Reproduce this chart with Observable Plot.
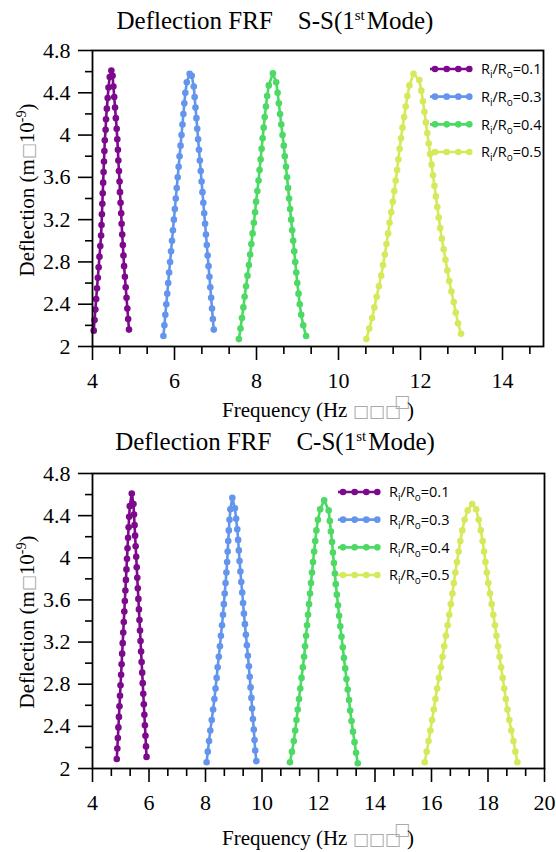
<!DOCTYPE html>
<html><head><meta charset="utf-8">
<script src="https://cdn.jsdelivr.net/npm/d3@7"></script>
<script src="https://cdn.jsdelivr.net/npm/@observablehq/plot@0.6"></script>
<style>
body{margin:0;background:#fff;}
#wrap{position:relative;width:556px;height:852px;overflow:hidden;background:#fff;}
#wrap svg{position:absolute;left:0;}
</style></head><body><div id="wrap"></div>
<script>
// ---------- data ----------
const ratioLabels = ["0.1", "0.3", "0.4", "0.5"];
const ratioColors = ["#7d0a8c", "#6495ed", "#4cd964", "#d6e95b"];
const yTicks = [2, 2.4, 2.8, 3.2, 3.6, 4, 4.4, 4.8];
const yMinorTicks = [2.2, 2.6, 3.0, 3.4, 3.8, 4.2, 4.6];
const xTicksSS = [4, 6, 8, 10, 12, 14];
const xMinorSS = [4.667, 5.333, 6.667, 7.333, 8.667, 9.333, 10.667, 11.333, 12.667, 13.333, 14.667];
const xTicksCS = [4, 6, 8, 10, 12, 14, 16, 18, 20];
const xMinorCS = [4.667, 5.333, 6.667, 7.333, 8.667, 9.333, 10.667, 11.333, 12.667, 13.333, 14.667, 15.333, 16.667, 17.333, 18.667, 19.333];

// S-S, Ri/Ro = 0.1
const ss01_f = [4.03,4.05,4.07,4.09,4.11,4.13,4.15,4.17,4.19,4.21,4.22,4.23,4.24,4.25,4.26,4.27,4.28,4.29,4.30,4.32,4.33,4.35,4.37,4.39,4.42,4.46,4.49,4.51,4.53,4.55,4.57,4.59,4.605,4.62,4.63,4.645,4.66,4.67,4.685,4.70,4.71,4.725,4.74,4.755,4.77,4.79,4.81,4.83,4.85,4.87,4.89];
const ss01_d = [2.15,2.25,2.35,2.45,2.55,2.65,2.75,2.85,2.95,3.05,3.15,3.25,3.35,3.45,3.55,3.65,3.75,3.85,3.95,4.05,4.15,4.25,4.35,4.45,4.55,4.61,4.56,4.46,4.36,4.26,4.16,4.06,3.96,3.86,3.76,3.66,3.56,3.46,3.36,3.26,3.16,3.06,2.96,2.86,2.76,2.66,2.56,2.46,2.36,2.26,2.16];
// S-S, Ri/Ro = 0.3
const ss03_f = [5.73,5.753,5.776,5.80,5.823,5.846,5.869,5.892,5.916,5.939,5.962,5.985,6.008,6.032,6.055,6.078,6.101,6.124,6.148,6.171,6.194,6.217,6.24,6.264,6.30,6.37,6.42,6.47,6.491,6.512,6.534,6.555,6.576,6.597,6.618,6.64,6.661,6.682,6.703,6.724,6.746,6.767,6.788,6.809,6.83,6.852,6.873,6.894,6.915,6.936,6.958];
const ss03_d = [2.10,2.20,2.30,2.40,2.50,2.60,2.70,2.80,2.90,3.00,3.10,3.20,3.30,3.40,3.50,3.60,3.70,3.80,3.90,4.00,4.10,4.20,4.30,4.40,4.50,4.58,4.56,4.46,4.36,4.26,4.16,4.06,3.96,3.86,3.76,3.66,3.56,3.46,3.36,3.26,3.16,3.06,2.96,2.86,2.76,2.66,2.56,2.46,2.36,2.26,2.16];
// S-S, Ri/Ro = 0.4
const ss04_f = [7.57,7.61,7.645,7.68,7.71,7.745,7.78,7.815,7.845,7.875,7.905,7.935,7.965,7.99,8.02,8.05,8.075,8.10,8.125,8.15,8.175,8.20,8.23,8.26,8.30,8.40,8.48,8.515,8.545,8.575,8.605,8.635,8.665,8.69,8.72,8.745,8.77,8.795,8.82,8.845,8.87,8.895,8.92,8.945,8.97,8.995,9.025,9.055,9.09,9.14,9.21];
const ss04_d = [2.07,2.17,2.27,2.37,2.47,2.57,2.67,2.77,2.87,2.97,3.07,3.17,3.27,3.37,3.47,3.57,3.67,3.77,3.87,3.97,4.07,4.17,4.27,4.37,4.47,4.585,4.50,4.40,4.30,4.20,4.10,4.00,3.90,3.80,3.70,3.60,3.50,3.40,3.30,3.20,3.10,3.00,2.90,2.80,2.70,2.60,2.50,2.40,2.30,2.20,2.10];
// S-S, Ri/Ro = 0.5
const ss05_f = [10.68,10.75,10.82,10.875,10.93,10.985,11.04,11.085,11.13,11.17,11.21,11.245,11.285,11.325,11.36,11.395,11.43,11.46,11.49,11.525,11.56,11.60,11.64,11.68,11.73,11.83,11.97,12.02,12.06,12.095,12.13,12.165,12.20,12.235,12.27,12.305,12.34,12.375,12.41,12.445,12.48,12.52,12.565,12.61,12.655,12.70,12.755,12.81,12.86,12.915,12.99];
const ss05_d = [2.07,2.17,2.27,2.37,2.47,2.57,2.67,2.77,2.87,2.97,3.07,3.17,3.27,3.37,3.47,3.57,3.67,3.77,3.87,3.97,4.07,4.17,4.27,4.37,4.47,4.58,4.52,4.42,4.32,4.22,4.12,4.02,3.92,3.82,3.72,3.62,3.52,3.42,3.32,3.22,3.12,3.02,2.92,2.82,2.72,2.62,2.52,2.42,2.32,2.22,2.12];

// C-S, Ri/Ro = 0.1
const cs01_f = [4.86,4.879,4.898,4.917,4.936,4.955,4.974,4.993,5.012,5.031,5.05,5.069,5.088,5.107,5.126,5.145,5.164,5.183,5.202,5.221,5.24,5.259,5.278,5.297,5.32,5.39,5.45,5.469,5.489,5.508,5.527,5.547,5.566,5.585,5.604,5.624,5.643,5.662,5.682,5.701,5.72,5.739,5.759,5.778,5.797,5.817,5.836,5.855,5.875,5.894,5.913];
const cs01_d = [2.09,2.19,2.29,2.39,2.49,2.59,2.69,2.79,2.89,2.99,3.09,3.19,3.29,3.39,3.49,3.59,3.69,3.79,3.89,3.99,4.09,4.19,4.29,4.39,4.49,4.61,4.51,4.41,4.31,4.21,4.11,4.01,3.91,3.81,3.71,3.61,3.51,3.41,3.31,3.21,3.11,3.01,2.91,2.81,2.71,2.61,2.51,2.41,2.31,2.21,2.11];
// C-S, Ri/Ro = 0.3
const cs03_f = [8.04,8.08,8.125,8.17,8.22,8.27,8.315,8.355,8.395,8.43,8.47,8.51,8.545,8.585,8.62,8.65,8.68,8.71,8.74,8.765,8.785,8.805,8.825,8.85,8.88,8.95,9.04,9.085,9.125,9.155,9.18,9.205,9.235,9.265,9.30,9.33,9.36,9.395,9.43,9.465,9.50,9.535,9.565,9.595,9.625,9.65,9.68,9.71,9.735,9.76,9.80];
const cs03_d = [2.06,2.16,2.26,2.36,2.46,2.56,2.66,2.76,2.86,2.96,3.06,3.16,3.26,3.36,3.46,3.56,3.66,3.76,3.86,3.96,4.06,4.16,4.26,4.36,4.46,4.57,4.47,4.37,4.27,4.17,4.07,3.97,3.87,3.77,3.67,3.57,3.47,3.37,3.27,3.17,3.07,2.97,2.87,2.77,2.67,2.57,2.47,2.37,2.27,2.17,2.07];
// C-S, Ri/Ro = 0.4
const cs04_f = [10.99,11.06,11.125,11.175,11.22,11.265,11.31,11.355,11.40,11.445,11.49,11.525,11.56,11.595,11.63,11.665,11.70,11.735,11.77,11.805,11.845,11.885,11.925,11.98,12.06,12.20,12.36,12.40,12.44,12.48,12.51,12.545,12.58,12.61,12.65,12.69,12.73,12.77,12.815,12.86,12.90,12.945,12.99,13.035,13.08,13.12,13.17,13.22,13.275,13.33,13.39];
const cs04_d = [2.06,2.16,2.26,2.36,2.46,2.56,2.66,2.76,2.86,2.96,3.06,3.16,3.26,3.36,3.46,3.56,3.66,3.76,3.86,3.96,4.06,4.16,4.26,4.36,4.46,4.545,4.45,4.35,4.25,4.15,4.05,3.95,3.85,3.75,3.65,3.55,3.45,3.35,3.25,3.15,3.05,2.95,2.85,2.75,2.65,2.55,2.45,2.35,2.25,2.15,2.05];
// C-S, Ri/Ro = 0.5
const cs05_f = [15.76,15.83,15.895,15.96,16.02,16.08,16.14,16.20,16.265,16.33,16.39,16.45,16.51,16.57,16.63,16.685,16.74,16.79,16.845,16.90,16.96,17.02,17.09,17.17,17.28,17.44,17.58,17.67,17.745,17.81,17.86,17.91,17.96,18.01,18.07,18.13,18.19,18.245,18.30,18.355,18.41,18.465,18.52,18.575,18.63,18.69,18.755,18.825,18.90,18.97,19.04];
const cs05_d = [2.06,2.16,2.26,2.36,2.46,2.56,2.66,2.76,2.86,2.96,3.06,3.16,3.26,3.36,3.46,3.56,3.66,3.76,3.86,3.96,4.06,4.16,4.26,4.36,4.45,4.51,4.46,4.36,4.26,4.16,4.06,3.96,3.86,3.76,3.66,3.56,3.46,3.36,3.26,3.16,3.06,2.96,2.86,2.76,2.66,2.56,2.46,2.36,2.26,2.16,2.06];

// ---------- drawing ----------
const serif = "'Liberation Serif', 'Times New Roman', serif";
const sans = "'Open Sans', 'Liberation Sans', sans-serif";

function rows(list) {
  const out = [];
  list.forEach(([fs, ds], i) => {
    const n = Math.min(fs.length, ds.length);
    for (let j = 0; j < n; j++) out.push({ratio: ratioLabels[i], f: fs[j], d: ds[j]});
  });
  return out;
}

function drawPanel(cfg) {
  const data = rows(cfg.series);
  const svg = Plot.plot({
    width: 556, height: cfg.height,
    marginLeft: 92, marginRight: cfg.marginRight, marginTop: cfg.marginTop, marginBottom: cfg.marginBottom,
    style: `font-family: ${serif}; font-size: 22px; color: black; background: white; overflow: visible;`,
    x: {domain: cfg.xDomain, axis: null},
    y: {domain: [2, 4.8], axis: null},
    color: {domain: ratioLabels, range: ratioColors},
    marks: [
      Plot.axisY({ticks: yTicks, tickSize: 14, tickPadding: 8, tickFormat: d3.format("~g"), strokeWidth: 1.6, label: null}),
      Plot.axisY({ticks: yMinorTicks, tickSize: 7, tickFormat: () => "", strokeWidth: 1.6, label: null}),
      Plot.axisX({ticks: cfg.xTicks, tickSize: 14, tickPadding: 12, tickFormat: d3.format("~g"), strokeWidth: 1.6, label: null}),
      Plot.axisX({ticks: cfg.xMinor, tickSize: 8, tickFormat: () => "", strokeWidth: 1.6, label: null}),
      Plot.line(data, {x: "f", y: "d", stroke: "ratio", strokeWidth: 2.6}),
      Plot.dot(data, {x: "f", y: "d", fill: "ratio", r: 3.3}),
      Plot.frame({stroke: "black", strokeWidth: 1.8})
    ]
  });
  svg.style.top = cfg.top + "px";
  const s = d3.select(svg);
  s.selectAll('[aria-label$="tick label"] text').style("font-family", serif).style("font-size", "22px").attr("fill", "black");

  // title
  const t = s.append("text").attr("x", 275).attr("y", cfg.titleY)
    .attr("text-anchor", "middle").style("font-family", serif).style("font-size", "25px")
    .style("white-space", "pre").attr("fill", "black");
  t.append("tspan").text(cfg.title);
  t.append("tspan").attr("dy", -9).style("font-size", "15px").text("st");
  t.append("tspan").attr("dy", 9).attr("dx", 2).text("Mode)");

  // y label
  const yl = s.append("text").attr("transform", `translate(33.5,${cfg.yLabelY}) rotate(-90)`)
    .attr("text-anchor", "middle").style("font-family", serif).style("font-size", "21px").attr("fill", "black");
  yl.append("tspan").text("Deflection (m");
  yl.append("tspan").attr("fill", "#aaa").style("font-family", "'DejaVu Sans'").style("font-size", "17px").text("\u25A1");
  yl.append("tspan").attr("fill", "black").text("10");
  yl.append("tspan").attr("dy", -8).style("font-size", "14px").text("-9");
  yl.append("tspan").attr("dy", 8).text(")");

  // x label
  const xl = s.append("text").attr("x", 318).attr("y", cfg.xLabelY)
    .attr("text-anchor", "middle").style("font-family", serif).style("font-size", "21px").attr("fill", "black");
  xl.append("tspan").text("Frequency (Hz ");
  xl.append("tspan").attr("fill", "#aaa").style("font-family", "'DejaVu Sans'").style("font-size", "17px").text("\u25A1\u25A1\u25A1");
  xl.append("tspan").attr("fill", "#aaa").style("font-family", "'DejaVu Sans'").style("font-size", "17px").attr("dx", -7).attr("dy", -10).text("\u25A1");
  xl.append("tspan").attr("fill", "black").attr("dx", -3).attr("dy", 10).text(")");

  // legend
  const lg = s.append("g");
  ratioLabels.forEach((r, i) => {
    const y = cfg.legendY + i * 27.67;
    lg.append("line").attr("x1", cfg.legendX).attr("x2", cfg.legendX + 40).attr("y1", y).attr("y2", y)
      .attr("stroke", ratioColors[i]).attr("stroke-width", 2.6);
    [5, 16.7, 28.3, 39.3].forEach(dx => lg.append("circle").attr("cx", cfg.legendX + dx).attr("cy", y).attr("r", 3.3).attr("fill", ratioColors[i]));
    const tx = lg.append("text").attr("x", cfg.legendX + 51).attr("y", y + 5.2)
      .attr("text-anchor", "start")
      .style("font-family", sans).style("font-size", "14.5px").attr("fill", "black");
    tx.append("tspan").text("R");
    tx.append("tspan").attr("dy", 4).style("font-size", "10px").text("i");
    tx.append("tspan").attr("dy", -4).text("/R");
    tx.append("tspan").attr("dy", 4).style("font-size", "10px").text("o");
    tx.append("tspan").attr("dy", -4).text("=" + r);
  });

  document.getElementById("wrap").appendChild(svg);
}

drawPanel({
  top: 0, height: 426, marginTop: 50, marginBottom: 80, marginRight: 13,
  xDomain: [4, 15], xTicks: xTicksSS, xMinor: xMinorSS,
  series: [[ss01_f, ss01_d], [ss03_f, ss03_d], [ss04_f, ss04_d], [ss05_f, ss05_d]],
  title: "Deflection FRF\u00A0\u00A0\u00A0\u00A0S-S(1",
  titleY: 28.5, yLabelY: 190, xLabelY: 417,
  legendX: 430, legendY: 69
});
drawPanel({
  top: 426, height: 426, marginTop: 47, marginBottom: 84, marginRight: 12,
  xDomain: [4, 20], xTicks: xTicksCS, xMinor: xMinorCS,
  series: [[cs01_f, cs01_d], [cs03_f, cs03_d], [cs04_f, cs04_d], [cs05_f, cs05_d]],
  title: "Deflection FRF\u00A0\u00A0\u00A0\u00A0C-S(1",
  titleY: 24, yLabelY: 196, xLabelY: 419,
  legendX: 338, legendY: 66
});
</script></body></html>
